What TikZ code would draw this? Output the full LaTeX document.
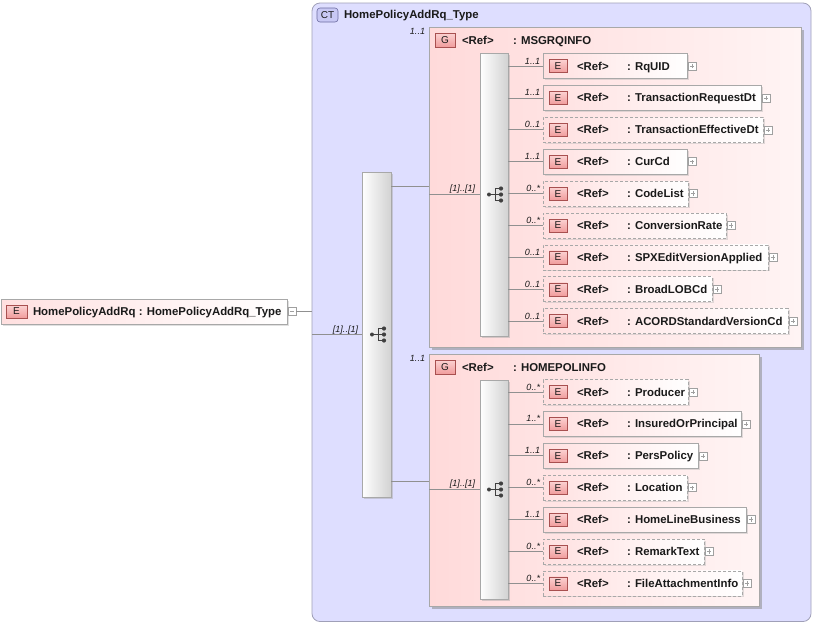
\documentclass[tikz,border=0pt]{standalone}
\usepackage{fontspec}
\setmainfont{Liberation Sans}
\usetikzlibrary{shadows,calc}
\definecolor{ctfill}{HTML}{DEDEFF}
\definecolor{ctborder}{HTML}{A0A0B8}
\definecolor{grpleft}{HTML}{FFDADA}
\definecolor{grpright}{HTML}{FFF4F4}
\definecolor{boxborder}{HTML}{A8A8A8}
\definecolor{elleft}{HTML}{FFE0E0}
\definecolor{seqright}{HTML}{D2D2D2}
\definecolor{badgetop}{HTML}{FCD2D2}
\definecolor{badgebot}{HTML}{F09C9C}
\definecolor{badgeborder}{HTML}{A85050}
\definecolor{ctbadgefill}{HTML}{C8C8F4}
\definecolor{ctbadgeborder}{HTML}{6C6CA0}
\definecolor{connc}{HTML}{909090}
\definecolor{expc}{HTML}{A0A0A0}
\definecolor{txt}{HTML}{1A1A1A}
\tikzset{
  every node/.style={inner sep=0pt, outer sep=0pt},
  ctbox/.style={draw=ctborder, fill=ctfill, rounded corners=8pt, line width=0.8pt},
  grpbox/.style={draw=boxborder, left color=grpleft, right color=grpright, line width=0.8pt,
    drop shadow={shadow xshift=2.5pt, shadow yshift=-2.5pt, fill=black!45, opacity=.55}},
  elbox/.style={draw=boxborder, left color=elleft, right color=white, line width=0.8pt,
    drop shadow={shadow xshift=1.5pt, shadow yshift=-1.5pt, fill=black!30, opacity=.4}},
  optbox/.style={elbox, dash pattern=on 3pt off 2pt},
  seqbar/.style={draw=boxborder, left color=white, right color=seqright, line width=0.8pt,
    drop shadow={shadow xshift=1.5pt, shadow yshift=-1.5pt, fill=black!35, opacity=.45}},
  badge/.style={draw=badgeborder, top color=badgetop, bottom color=badgebot, line width=0.6pt,
    minimum width=18pt, minimum height=13pt, text=txt, font=\fontsize{10}{10}\selectfont},
  ctbadge/.style={draw=ctbadgeborder, fill=ctbadgefill, rounded corners=3pt, line width=0.6pt,
    minimum width=21pt, minimum height=14pt, text=txt, font=\fontsize{10}{10}\selectfont},
  lbl/.style={font=\bfseries\fontsize{11.4}{12}\selectfont, text=txt, anchor=base west},
  card/.style={font=\itshape\fontsize{9}{9}\selectfont, text=txt, anchor=base east},
  conn/.style={draw=connc, line width=0.8pt},
  expander/.style={draw=expc, fill=white, minimum size=8pt, line width=0.5pt},
  icon/.style={draw=black!75, line width=0.9pt},
}
\newcommand\plusbox[1]{%
  \draw[expc, line width=0.6pt] ([xshift=1.8pt]#1.west) -- ([xshift=-1.8pt]#1.east);
  \draw[expc, line width=0.6pt] ([yshift=1.8pt]#1.south) -- ([yshift=-1.8pt]#1.north);
}
\newcommand\seqicon[2]{%
  \draw[icon] (#1-6,#2) -- (#1,#2) (#1,#2-6) -- (#1,#2+6)
    (#1,#2-6) -- (#1+6,#2-6) (#1,#2+6) -- (#1+6,#2+6) (#1,#2) -- (#1+6,#2);
  \fill[black!75] (#1-6,#2) circle (2pt) (#1+6,#2-6) circle (2.1pt)
    (#1+6,#2) circle (2.1pt) (#1+6,#2+6) circle (2.1pt);
}
% #1 node name, #2 element name, #3 center y, #4 right x, #5 style, #6 card, #7 seq node
\newcommand\elrow[7]{%
  \pgfmathsetmacro\elw{#4-543}
  \node[#5, minimum width=\elw pt, minimum height=25pt, anchor=west] (#1) at (543,#3) {};
  \node[badge, anchor=west] (#1b) at (549,#3) {E};
  \node[lbl] (#1r) at (577,#3+4) {<Ref>};
  \node[lbl] (#1n) at (627,#3+4) {: #2};
  \node[expander, anchor=west] (#1x) at (#4+1,#3) {};
  \plusbox{#1x}
  \draw[conn] (#7.east |- #1.west) -- (#1.west);
  \node[card] (#1c) at (540,#3-2) {#6};
}
\begin{document}
\begin{tikzpicture}[x=1pt,y=-1pt]
\useasboundingbox (0,0) rectangle (816,625);
% complex type
\node[ctbox, minimum width=499pt, minimum height=618.5pt, anchor=north west] (ct) at (312,3) {};
\node[ctbadge, anchor=west] (ctb) at (317,15) {CT};
\node[lbl] (ctt) at (344,18.5) {HomePolicyAddRq\_Type};
% root element
\node[elbox, minimum width=285.5pt, minimum height=25pt, anchor=north west] (root) at (1.5,299) {};
\node[badge, minimum width=21pt, anchor=west] (rootb) at (6,311.5) {E};
\node[lbl] (roott) at (33,315.5) {HomePolicyAddRq : HomePolicyAddRq\_Type};
\node[expander, anchor=west] (rootx) at (288,311.5) {};
\draw[expc, line width=0.6pt] ([xshift=1.8pt]rootx.west) -- ([xshift=-1.8pt]rootx.east);
\draw[conn] (rootx.east) -- (rootx.east -| ct.west);
% outer sequence
\node[seqbar, minimum width=29pt, minimum height=325pt, anchor=north west] (seq0) at (362,172) {};
\draw[conn] (seq0.west -| ct.west) -- (seq0.west);
\node[card] (seq0c) at (358,332) {[1]..[1]};
\seqicon{378}{334.5}
% group 1
\node[grpbox, minimum width=372pt, minimum height=320pt, anchor=north west] (g1) at (429,27.5) {};
\node[card] (g1c) at (425,34) {1..1};
\node[badge, minimum width=20pt, minimum height=14pt, anchor=west] (g1b) at (435,40) {G};
\node[lbl] (g1r) at (462,44) {<Ref>};
\node[lbl] (g1n) at (513,44) {: MSGRQINFO};
\node[seqbar, minimum width=28pt, minimum height=283pt, anchor=north west] (seq1) at (480,53) {};
\draw[conn] ([yshift=8pt]seq1.west -| seq0.east) -- ([yshift=8pt]seq1.west -| g1.west);
\draw[conn] (seq1.west -| g1.west) -- (seq1.west);
\node[card] (seq1c) at (475,191.5) {[1]..[1]};
\seqicon{495}{194.5}
\elrow{e1}{RqUID}{66}{687}{elbox}{1..1}{seq1}
\elrow{e2}{TransactionRequestDt}{97.9}{761}{elbox}{1..1}{seq1}
\elrow{e3}{TransactionEffectiveDt}{129.8}{763}{optbox}{0..1}{seq1}
\elrow{e4}{CurCd}{161.7}{687}{elbox}{1..1}{seq1}
\elrow{e5}{CodeList}{193.6}{688}{optbox}{0..*}{seq1}
\elrow{e6}{ConversionRate}{225.5}{726}{optbox}{0..*}{seq1}
\elrow{e7}{SPXEditVersionApplied}{257.4}{768}{optbox}{0..1}{seq1}
\elrow{e8}{BroadLOBCd}{289.3}{712}{optbox}{0..1}{seq1}
\elrow{e9}{ACORDStandardVersionCd}{321.2}{788}{optbox}{0..1}{seq1}
% group 2
\node[grpbox, minimum width=330pt, minimum height=252pt, anchor=north west] (g2) at (429,354.5) {};
\node[card] (g2c) at (425,361) {1..1};
\node[badge, minimum width=20pt, minimum height=14pt, anchor=west] (g2b) at (435,367) {G};
\node[lbl] (g2r) at (462,371) {<Ref>};
\node[lbl] (g2n) at (513,371) {: HOMEPOLINFO};
\node[seqbar, minimum width=28pt, minimum height=219pt, anchor=north west] (seq2) at (480,380) {};
\draw[conn] ([yshift=8pt]seq2.west -| seq0.east) -- ([yshift=8pt]seq2.west -| g2.west);
\draw[conn] (seq2.west -| g2.west) -- (seq2.west);
\node[card] (seq2c) at (475,486.5) {[1]..[1]};
\seqicon{495}{489.5}
\elrow{f1}{Producer}{392}{688}{optbox}{0..*}{seq2}
\elrow{f2}{InsuredOrPrincipal}{423.9}{741}{elbox}{1..*}{seq2}
\elrow{f3}{PersPolicy}{455.8}{698}{elbox}{1..1}{seq2}
\elrow{f4}{Location}{487.7}{687}{optbox}{0..*}{seq2}
\elrow{f5}{HomeLineBusiness}{519.6}{746}{elbox}{1..1}{seq2}
\elrow{f6}{RemarkText}{551.5}{704}{optbox}{0..*}{seq2}
\elrow{f7}{FileAttachmentInfo}{583.4}{742}{optbox}{0..*}{seq2}
\end{tikzpicture}
\end{document}
